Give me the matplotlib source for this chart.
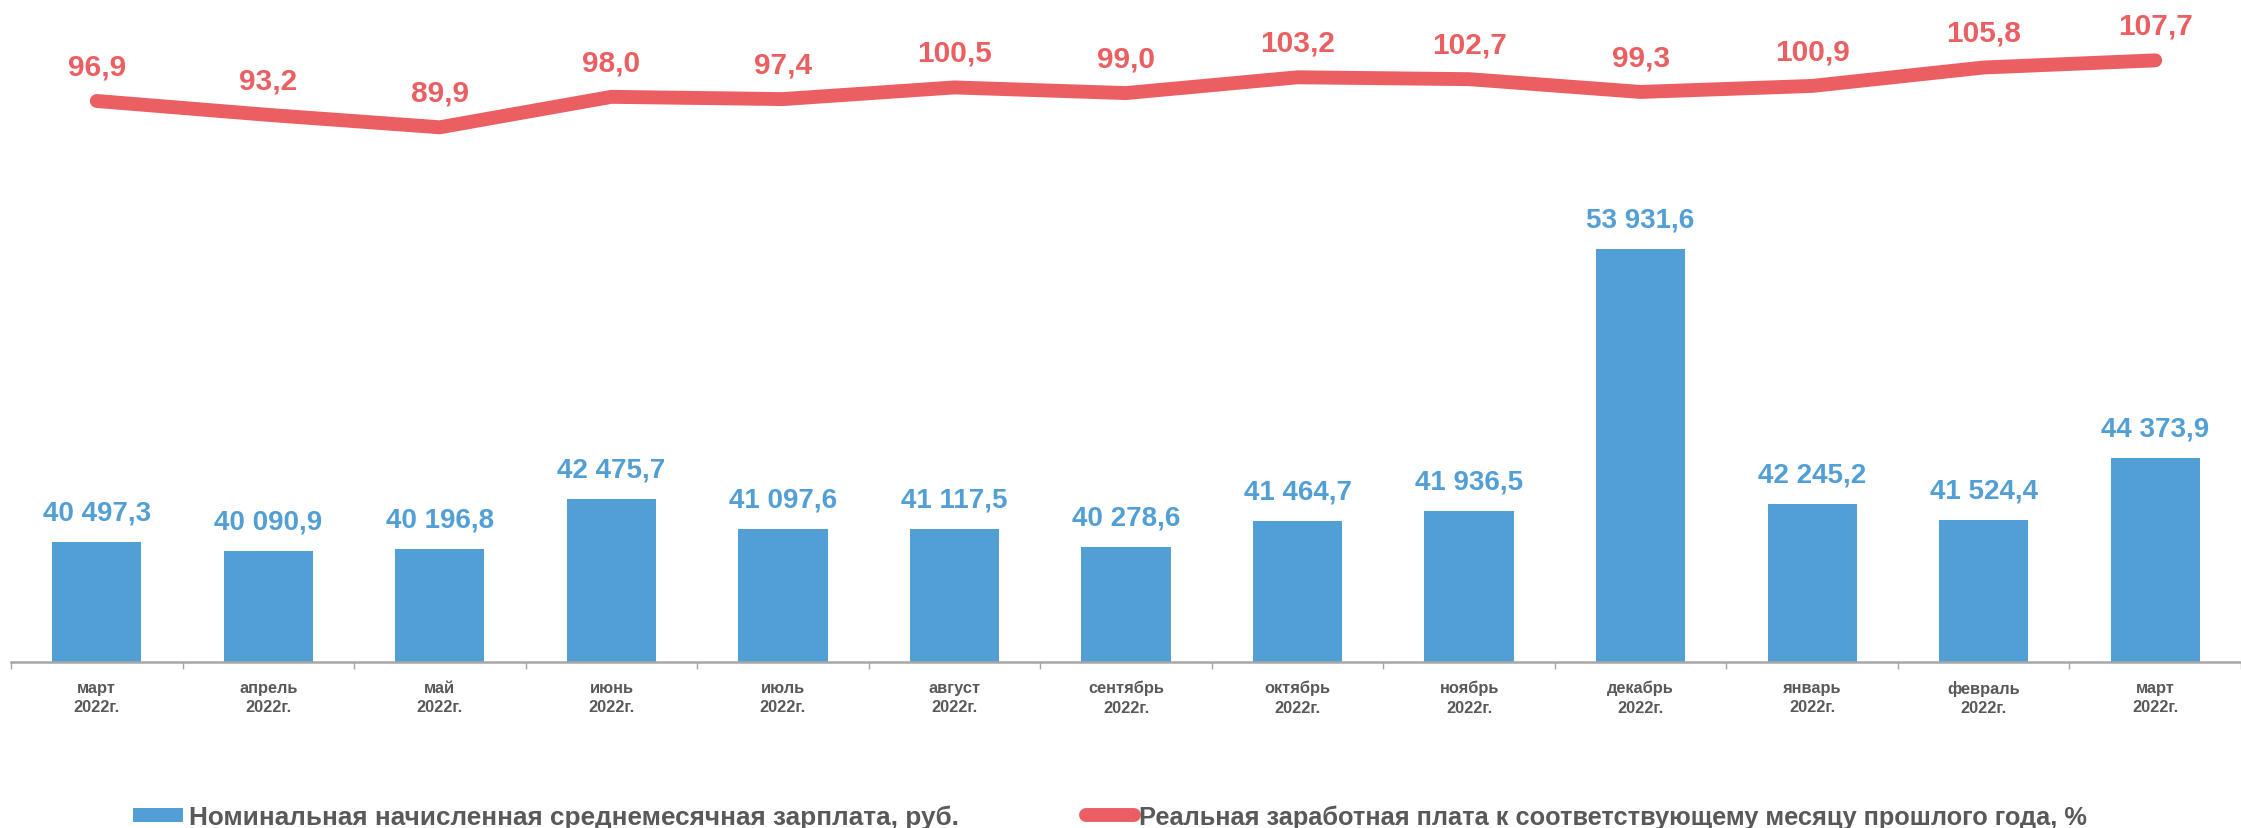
import matplotlib
matplotlib.use("Agg")
import matplotlib.pyplot as plt
from matplotlib.patches import Patch
from matplotlib.lines import Line2D
import numpy as np

plt.rcParams['font.family'] = ['Liberation Sans', 'DejaVu Sans']

months = ["март\n2022г.", "апрель\n2022г.", "май\n2022г.", "июнь\n2022г.", "июль\n2022г.",
          "август\n2022г.", "сентябрь\n2022г.", "октябрь\n2022г.", "ноябрь\n2022г.",
          "декабрь\n2022г.", "январь\n2022г.", "февраль\n2022г.", "март\n2022г."]
wages = [40497.3, 40090.9, 40196.8, 42475.7, 41097.6, 41117.5, 40278.6,
         41464.7, 41936.5, 53931.6, 42245.2, 41524.4, 44373.9]
real = [96.9, 93.2, 89.9, 98.0, 97.4, 100.5, 99.0, 103.2, 102.7, 99.3, 100.9, 105.8, 107.7]

legend_bar = "Номинальная начисленная среднемесячная зарплата, руб."
legend_line = "Реальная заработная плата к соответствующему месяцу прошлого года, %"

BLUE = "#529FD6"
RED = "#EB5F62"
GREY_TXT = "#595959"
AXIS = "#A6A6A6"

W, H = 2241, 829
fig = plt.figure(figsize=(W / 100, H / 100), dpi=100)
left, right, bottom, top = 11, 2241, 663, 20
ax = fig.add_axes([left / W, 1 - bottom / H, (right - left) / W, (bottom - top) / H])

def fmt_wage(v):
    return f"{v:,.1f}".replace(",", " ").replace(".", ",")

x = np.arange(len(wages))
ax.bar(x, wages, width=0.52, color=BLUE, zorder=2)
ax.set_xlim(-0.5, len(wages) - 0.5)
ax.set_ylim(35000, 64480)
for xi, v in zip(x, wages):
    ax.annotate(fmt_wage(v), (xi, v), xytext=(0, 21), textcoords="offset points",
                ha="center", va="center", fontsize=20, fontweight="bold", color=BLUE)

for s in ["top", "right", "left"]:
    ax.spines[s].set_visible(False)
ax.spines["bottom"].set_color(AXIS)
ax.spines["bottom"].set_linewidth(1.8)
ax.set_yticks([])
ax.set_xticks(np.arange(-0.5, len(wages), 1.0))
ax.set_xticklabels([])
ax.tick_params(axis="x", which="major", length=5, color=AXIS, width=1)
ax.set_xticks(x, minor=True)
ax.set_xticklabels(months, minor=True, fontsize=11.8, fontweight="bold", color=GREY_TXT,
                   linespacing=1.35)
ax.tick_params(axis="x", which="minor", length=0, pad=13)

ax2 = ax.twinx()
ax2.set_ylim(-52.3, 118.7)
ax2.plot(x, real, color=RED, linewidth=10, solid_capstyle="round", solid_joinstyle="miter", zorder=3)
for xi, v in zip(x, real):
    ax2.annotate(f"{v:.1f}".replace(".", ","), (xi, v), xytext=(0, 25), textcoords="offset points",
                 ha="center", va="center", fontsize=21.5, fontweight="bold", color=RED)
ax2.set_yticks([])
for s in ["top", "right", "left", "bottom"]:
    ax2.spines[s].set_visible(False)

h1 = Patch(facecolor=BLUE, edgecolor="none")
h2 = Line2D([0], [0], color=RED, linewidth=10, solid_capstyle="round")
ly = 1 - 818 / H
leg1 = fig.legend([h1], [legend_bar], loc="center left", bbox_to_anchor=(133 / W, ly),
                  frameon=False, borderpad=0, borderaxespad=0, handlelength=1.9, handleheight=0.5,
                  handletextpad=0.25, prop={"size": 18.8, "weight": "bold"})
for t in leg1.get_texts():
    t.set_color(GREY_TXT)
leg2 = fig.legend([h2], [legend_line], loc="center left", bbox_to_anchor=(1086 / W, ly),
                  frameon=False, borderpad=0, borderaxespad=0, handlelength=1.9,
                  handletextpad=0.2, prop={"size": 18.3, "weight": "bold"})
for t in leg2.get_texts():
    t.set_color(GREY_TXT)

fig.savefig("out.png", dpi=100)
